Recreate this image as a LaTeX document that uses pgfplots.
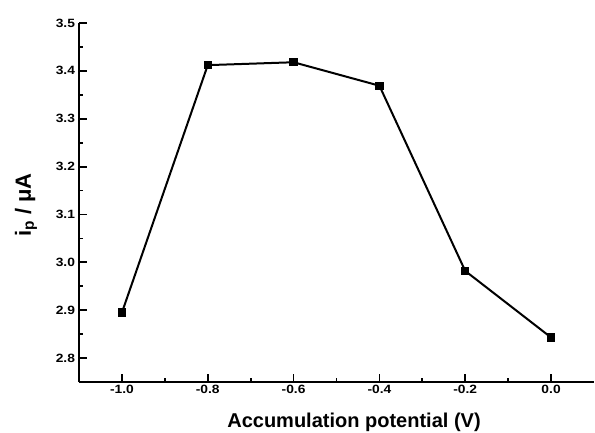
\documentclass[border=0pt]{standalone}
\usepackage{fontspec}
\setmainfont{Liberation Sans}
\usepackage{pgfplots}
\pgfplotsset{compat=1.18}
\begin{document}
\begin{tikzpicture}
\begin{axis}[
  scale only axis,
  width=515pt, height=359pt,
  xmin=-1.1, xmax=0.1,
  ymin=2.75, ymax=3.5,
  axis lines*=left,
  every outer x axis line/.append style={line width=2.2pt},
  every outer y axis line/.append style={line width=2.2pt},
  major tick style={line width=1.8pt, black},
  minor tick style={line width=1.8pt, black},
  tick align=inside,
  major tick length=8pt,
  minor tick length=4pt,
  minor tick num=1,
  xtick={-1.0,-0.8,-0.6,-0.4,-0.2,0.0},
  ytick={2.8,2.9,3.0,3.1,3.2,3.3,3.4,3.5},
  /pgf/number format/assume math mode=true,
  xticklabel={\pgfmathprintnumber[fixed,fixed zerofill,precision=1]{\tick}},
  yticklabel={\pgfmathprintnumber[fixed,fixed zerofill,precision=1]{\tick}},
  every tick label/.append style={font=\fontsize{12}{14}\selectfont\bfseries, xscale=1.15},
  xlabel={Accumulation potential (V)},
  ylabel={i\textsubscript{p} / μA},
  xlabel style={font=\fontsize{20}{24}\selectfont\bfseries, at={(axis description cs:0.534,0)}, anchor=north, yshift=-27pt},
  ylabel style={font=\fontsize{22}{26}\selectfont\bfseries, at={(axis description cs:-0.103,0.493)}, anchor=center},
  clip=false,
]
\addplot[black, line width=2pt, mark=square*, mark size=3.2pt, mark options={solid}] coordinates {
  (-1.0,2.895) (-0.8,3.412) (-0.6,3.418) (-0.4,3.369) (-0.2,2.982) (0.0,2.843)
};
\end{axis}
\pgfresetboundingbox
\path[use as bounding box] (current axis.south west) ++(-79pt,-50pt) rectangle ++(595pt,432pt);
\end{tikzpicture}
\end{document}
